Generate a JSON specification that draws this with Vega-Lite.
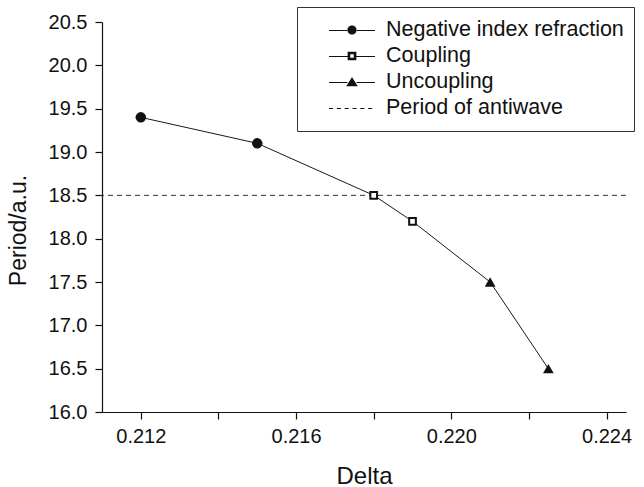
{
  "$schema": "https://vega.github.io/schema/vega-lite/v6.json",
  "width": 524,
  "height": 390,
  "autosize": {"type": "none"},
  "padding": {"left": 102, "top": 22, "right": 18, "bottom": 75},
  "background": "white",
  "config": {
    "view": {"stroke": null},
    "font": "Liberation Sans",
    "axis": {
      "grid": false,
      "domainColor": "#111",
      "domainWidth": 1.2,
      "tickColor": "#111",
      "tickWidth": 1.2,
      "labelColor": "#111",
      "titleColor": "#111",
      "labelFont": "Liberation Sans",
      "titleFont": "Liberation Sans",
      "titleFontWeight": "normal",
      "labelFontSize": 20
    }
  },
  "datasets": {
    "main": [
      {"Delta": 0.212, "Period": 19.4, "type": "Negative index refraction"},
      {"Delta": 0.215, "Period": 19.1, "type": "Negative index refraction"},
      {"Delta": 0.218, "Period": 18.5, "type": "Coupling"},
      {"Delta": 0.219, "Period": 18.2, "type": "Coupling"},
      {"Delta": 0.221, "Period": 17.5, "type": "Uncoupling"},
      {"Delta": 0.2225, "Period": 16.5, "type": "Uncoupling"}
    ],
    "ref": [{"Period": 18.5}]
  },
  "layer": [
    {
      "data": {"name": "main"},
      "mark": {"type": "line", "color": "#1a1a1a", "strokeWidth": 1},
      "encoding": {
        "x": {
          "field": "Delta", "type": "quantitative",
          "scale": {"domain": [0.211, 0.2245], "nice": false, "zero": false},
          "axis": {
            "title": "Delta",
            "values": [0.212, 0.214, 0.216, 0.218, 0.220, 0.222, 0.224],
            "labelExpr": "round(datum.value*1000) % 4 === 0 ? format(datum.value, '.3f') : ''",
            "tickSize": 7,
            "labelPadding": 7,
            "labelFlush": false,
            "labelOverlap": false,
            "titleFontSize": 24,
            "titleX": 262,
            "titleY": 71,
            "titleBaseline": "alphabetic",
            "encode": {"ticks": {"update": {"y2": {"signal": "round(datum.value*1000) % 4 === 0 ? 7 : 4"}}}}
          }
        },
        "y": {
          "field": "Period", "type": "quantitative",
          "scale": {"domain": [16, 20.5], "nice": false, "zero": false},
          "axis": {
            "title": "Period/a.u.",
            "values": [16, 16.25, 16.5, 16.75, 17, 17.25, 17.5, 17.75, 18, 18.25, 18.5, 18.75, 19, 19.25, 19.5, 19.75, 20, 20.25, 20.5],
            "labelExpr": "datum.value % 0.5 === 0 ? format(datum.value, '.1f') : ''",
            "tickSize": 7,
            "labelPadding": 8,
            "labelFlush": false,
            "labelOverlap": false,
            "titleFontSize": 23,
            "titleAngle": -90,
            "titleX": -84,
            "titleY": 208,
            "titleAlign": "center",
            "titleBaseline": "middle",
            "encode": {"ticks": {"update": {"x2": {"signal": "datum.value % 0.5 === 0 ? -7 : -4"}}}}
          }
        }
      }
    },
    {
      "data": {"name": "ref"},
      "mark": {"type": "rule", "color": "#333", "strokeWidth": 1, "strokeDash": [5, 4]},
      "encoding": {
        "y": {"field": "Period", "type": "quantitative"}
      }
    },
    {
      "data": {"name": "main"},
      "mark": {"type": "point", "filled": true, "color": "#111", "opacity": 0},
      "encoding": {
        "x": {"field": "Delta", "type": "quantitative"},
        "y": {"field": "Period", "type": "quantitative"},
        "shape": {
          "field": "type", "type": "nominal",
          "scale": {
            "domain": ["Negative index refraction", "Coupling", "Uncoupling", "Period of antiwave"],
            "range": [
              "M-1,0H-0.21V0.044H-1ZM0.21,0H1V0.044H0.21ZM0.2,0A0.2,0.2,0,1,1,-0.2,0A0.2,0.2,0,1,1,0.2,0Z",
              "M-1,0H-0.19V0.044H-1ZM0.19,0H1V0.044H0.19ZM-0.19,-0.19H0.19V0.19H-0.19ZM-0.075,-0.075V0.075H0.075V-0.075Z",
              "M-1,0H-0.2V0.044H-1ZM0.2,0H1V0.044H0.2ZM0,-0.22L0.25,0.19L-0.25,0.19Z",
              "M-1,0H-0.82V0.044H-1ZM-0.66,0H-0.48V0.044H-0.66ZM-0.32,0H-0.14V0.044H-0.32ZM0.02,0H0.2V0.044H0.02ZM0.36,0H0.54V0.044H0.36ZM0.7,0H0.88V0.044H0.7Z"
            ]
          },
          "legend": {
            "title": null,
            "orient": "none",
            "legendX": 195,
            "legendY": -15,
            "direction": "vertical",
            "strokeColor": "#333",
            "fillColor": "white",
            "padding": 10,
            "symbolOffset": 22,
            "labelOffset": 11,
            "clipHeight": 26,
            "rowPadding": 0,
            "symbolSize": 2116,
            "symbolOpacity": 1,
            "symbolFillColor": "#111",
            "symbolStrokeWidth": 0,
            "labelFontSize": 21.5,
            "labelFont": "Liberation Sans",
            "labelColor": "#111",
            "labelLimit": 400
          }
        }
      }
    },
    {
      "data": {"name": "main"},
      "transform": [{"filter": "datum.type === 'Negative index refraction'"}],
      "mark": {"type": "point", "shape": "circle", "filled": true, "size": 110, "opacity": 1, "color": "#111", "strokeWidth": 0},
      "encoding": {
        "x": {"field": "Delta", "type": "quantitative"},
        "y": {"field": "Period", "type": "quantitative"}
      }
    },
    {
      "data": {"name": "main"},
      "transform": [{"filter": "datum.type === 'Uncoupling'"}],
      "mark": {"type": "point", "shape": "triangle-up", "filled": true, "size": 115, "opacity": 1, "color": "#111", "strokeWidth": 0},
      "encoding": {
        "x": {"field": "Delta", "type": "quantitative"},
        "y": {"field": "Period", "type": "quantitative"}
      }
    },
    {
      "data": {"name": "main"},
      "transform": [{"filter": "datum.type === 'Coupling'"}],
      "mark": {"type": "point", "shape": "square", "filled": true, "size": 45, "opacity": 1, "fill": "white", "stroke": "#111", "strokeWidth": 2},
      "encoding": {
        "x": {"field": "Delta", "type": "quantitative"},
        "y": {"field": "Period", "type": "quantitative"}
      }
    }
  ]
}
